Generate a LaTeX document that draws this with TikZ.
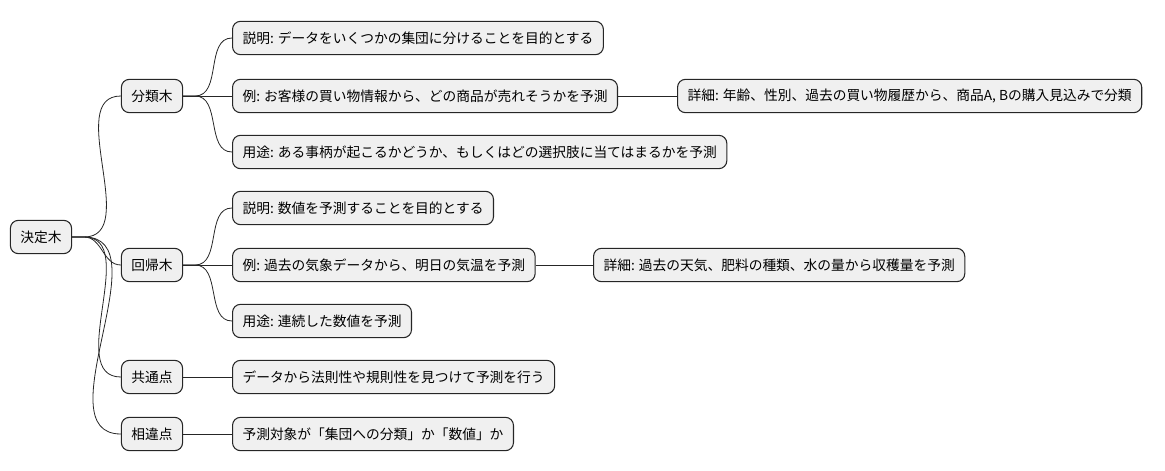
\documentclass[tikz,border=0pt]{standalone}
\usepackage{fontspec}
\setmainfont{Noto Sans CJK JP}
\usetikzlibrary{positioning}
\begin{document}
\begin{tikzpicture}
[x=0.75pt,y=-0.75pt,
topic/.style={draw=black!85,fill=black!6,rounded corners=6pt,line width=0.8pt,
  minimum height=25pt,inner xsep=7.5pt,font=\fontsize{10.3}{12}\selectfont},
leaf/.style={topic,anchor=west},
link/.style={line width=0.6pt,black!85}]
\useasboundingbox (0,0) rectangle (1165,471);
%
\node (root) [topic] at (41,237) {決定木};
\node (cls) [topic] at (152,96) {分類木};
\node (reg) [topic] at (152,265) {回帰木};
\node (com) [topic] at (152,377) {共通点};
\node (dif) [topic] at (152,434) {相違点};
%
\node (cls1) [leaf] at (232,38) {説明: データをいくつかの集団に分けることを目的とする};
\node (cls2) [leaf] at (232,96) {例: お客様の買い物情報から、どの商品が売れそうかを予測};
\node (cls3) [leaf] at (232,152) {用途: ある事柄が起こるかどうか、もしくはどの選択肢に当てはまるかを予測};
\node (cls4) [leaf] at (677,96) {詳細: 年齢、性別、過去の買い物履歴から、商品A, Bの購入見込みで分類};
%
\node (reg1) [leaf] at (232,208) {説明: 数値を予測することを目的とする};
\node (reg2) [leaf] at (232,265) {例: 過去の気象データから、明日の気温を予測};
\node (reg3) [leaf] at (232,321) {用途: 連続した数値を予測};
\node (reg4) [leaf] at (593,265) {詳細: 過去の天気、肥料の種類、水の量から収穫量を予測};
%
\node (com1) [leaf] at (232,377) {データから法則性や規則性を見つけて予測を行う};
\node (dif1) [leaf] at (232,434) {予測対象が「集団への分類」か「数値」か};
%
\foreach \a/\b in {root/cls,root/reg,root/com,root/dif,
  cls/cls1,cls/cls3,reg/reg1,reg/reg3}
  \draw[link] (\a.east) -- ++(12,0) to[out=0,in=180] (\b.west);
\foreach \a/\b in {cls/cls2,reg/reg2,cls2/cls4,reg2/reg4,com/com1,dif/dif1}
  \draw[link] (\a.east) -- (\b.west);
\end{tikzpicture}
\end{document}
